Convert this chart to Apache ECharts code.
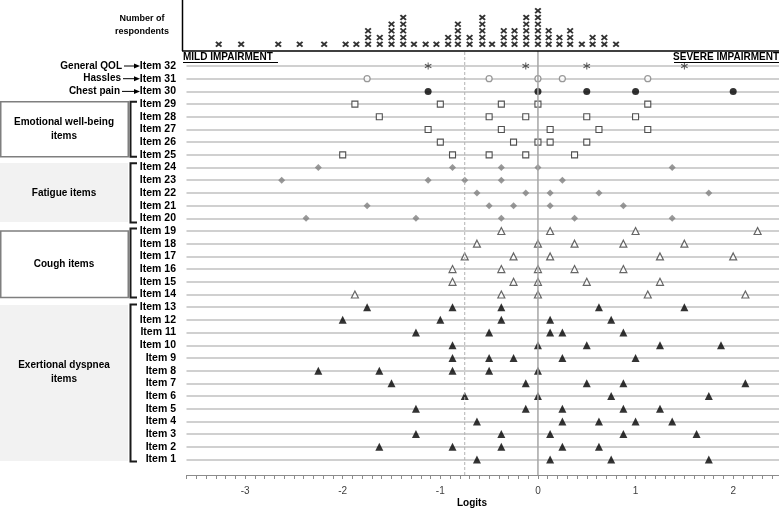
<!DOCTYPE html>
<html>
<head>
<meta charset="utf-8">
<script src="https://cdn.jsdelivr.net/npm/echarts@6/dist/echarts.min.js"></script>
<style>
  html, body { margin: 0; padding: 0; background: #fff; }
  #chart { width: 779px; height: 509px; }
</style>
</head>
<body>
<div id="chart"></div>
<script>
// rows of the item map, bottom to top
const itemLabels = Array.from({ length: 32 }, (_, i) => 'Item ' + (i + 1));

// person measures (logits) and how many respondents sit at each
const personLogits = [-3.27, -3.04, -2.66, -2.44, -2.19, -1.97, -1.86, -1.74, -1.62, -1.50,
  -1.38, -1.27, -1.15, -1.04, -0.92, -0.82, -0.70, -0.57, -0.47, -0.35,
  -0.24, -0.12, 0.00, 0.11, 0.22, 0.33, 0.45, 0.56, 0.68, 0.80];
const respondentCounts = [1, 1, 1, 1, 1, 1, 1, 3, 2, 4,
  5, 1, 1, 1, 2, 4, 2, 5, 1, 3,
  3, 5, 6, 3, 2, 3, 1, 2, 2, 1];

// item thresholds (logits)
const dyspneaItems = [1, 2, 3, 4, 5, 6, 7, 8, 9, 10, 11, 12, 13];
const dyspneaLogits = [
  [-0.625, 0.125, 0.75, 1.75],
  [-1.625, -0.875, -0.375, 0.25, 0.625],
  [-1.25, -0.375, 0.125, 0.875, 1.625],
  [-0.625, 0.25, 0.625, 1, 1.375],
  [-1.25, -0.125, 0.25, 0.875, 1.25],
  [-0.75, 0, 0.75, 1.75],
  [-1.5, -0.125, 0.5, 0.875, 2.125],
  [-2.25, -1.625, -0.875, -0.5, 0],
  [-0.875, -0.5, -0.25, 0.25, 1],
  [-0.875, 0, 0.5, 1.25, 1.875],
  [-1.25, -0.5, 0.125, 0.25, 0.875],
  [-2, -1, -0.375, 0.125, 0.75],
  [-1.75, -0.875, -0.375, 0.625, 1.5]
];
const coughItems = [14, 15, 16, 17, 18, 19];
const coughLogits = [
  [-1.875, -0.375, 0, 1.125, 2.125],
  [-0.875, -0.25, 0, 0.5, 1.25],
  [-0.875, -0.375, 0, 0.375, 0.875],
  [-0.75, -0.25, 0.125, 1.25, 2],
  [-0.625, 0, 0.375, 0.875, 1.5],
  [-0.375, 0.125, 1, 2.25]
];
const fatigueItems = [20, 21, 22, 23, 24];
const fatigueLogits = [
  [-2.375, -1.25, -0.375, 0.375, 1.375],
  [-1.75, -0.5, -0.25, 0.125, 0.875],
  [-0.625, -0.125, 0.125, 0.625, 1.75],
  [-2.625, -1.125, -0.75, -0.375, 0.25],
  [-2.25, -0.875, -0.375, 0, 1.375]
];
const emotionalItems = [25, 26, 27, 28, 29];
const emotionalLogits = [
  [-2, -0.875, -0.5, -0.125, 0.375],
  [-1, -0.25, 0, 0.125, 0.5],
  [-1.125, -0.375, 0.125, 0.625, 1.125],
  [-1.625, -0.5, -0.125, 0.5, 1],
  [-1.875, -1, -0.375, 0, 1.125]
];
const chestPainLogits = [-1.125, 0, 0.5, 1, 2];          // item 30
const hasslesLogits = [-1.75, -0.5, 0, 0.25, 1.125];     // item 31
const generalQolLogits = [-1.125, -0.125, 0.5, 1.5];     // item 32

const cutoffLogit = -0.75;
const xMin = -3.6, xMax = 2.5;

const FONT = '"Liberation Sans", Arial, sans-serif';
const crossPath = 'path://M0,2L2,0L5,3L8,0L10,2L7,5L10,8L8,10L5,7L2,10L0,8L3,5Z';
const asteriskPath = 'path://M4.3,0L5.7,0L5.7,10L4.3,10Z' +
  'M0.97,1.88L9.63,6.88L8.93,8.12L0.27,3.12Z' +
  'M0.27,6.88L8.93,1.88L9.63,3.12L0.97,8.12Z';

function rowPoints(items, rows) {
  const pts = [];
  items.forEach((item, r) => rows[r].forEach(v => pts.push([v, item - 1])));
  return pts;
}

const respondentMarks = [];
personLogits.forEach((v, i) => {
  for (let k = 1; k <= respondentCounts[i]; k++) respondentMarks.push([v, k]);
});

function txt(x, y, text, size, align, weight) {
  return {
    type: 'text', x: x, y: y, z: 10,
    style: {
      text: text, fill: '#000',
      font: (weight || 'bold') + ' ' + size + 'px ' + FONT,
      align: align, verticalAlign: 'middle',
      textAlign: align, textVerticalAlign: 'middle'
    }
  };
}
function hline(x1, x2, y, color, w) {
  return { type: 'line', z: 10, shape: { x1: x1, y1: y, x2: x2, y2: y }, style: { stroke: color, lineWidth: w } };
}
function bracket(y1, y2) {
  return {
    type: 'polyline', z: 10,
    shape: { points: [[137, y1], [130.5, y1], [130.5, y2], [137, y2]] },
    style: { stroke: '#1a1a1a', lineWidth: 2, fill: null }
  };
}
function arrow(x1, y) {
  return [
    hline(x1, 136, y, '#000', 1),
    { type: 'polygon', z: 10, shape: { points: [[134, y - 2.5], [140, y], [134, y + 2.5]] }, style: { fill: '#000' } }
  ];
}

const graphics = [
  // histogram frame
  { type: 'line', z: 10, shape: { x1: 182.5, y1: 0, x2: 182.5, y2: 51 }, style: { stroke: '#000', lineWidth: 1.5 } },
  hline(182, 779, 51, '#000', 1.5),
  txt(142, 19, 'Number of', 9, 'center'),
  txt(142, 31.5, 'respondents', 9, 'center'),
  txt(183, 57, 'MILD IMPAIRMENT', 10, 'left'),
  hline(183, 278, 62.5, '#000', 1.2),
  txt(779, 57, 'SEVERE IMPAIRMENT', 10, 'right'),
  hline(674, 779, 62.5, '#000', 1.2),
  // single items
  txt(122, 66, 'General QOL', 10, 'right'),
  txt(121, 78.7, 'Hassles', 10, 'right'),
  txt(120, 91.4, 'Chest pain', 10, 'right'),
  ...arrow(124, 66), ...arrow(123, 78.7), ...arrow(122, 91.4),
  // group boxes
  { type: 'rect', z: 9, shape: { x: 0.75, y: 101.7, width: 127.5, height: 55 }, style: { fill: '#fff', stroke: '#7f7f7f', lineWidth: 1.5 } },
  { type: 'rect', z: 9, shape: { x: 0, y: 163, width: 128, height: 59 }, style: { fill: '#f2f2f2' } },
  { type: 'rect', z: 9, shape: { x: 0.75, y: 231, width: 127.5, height: 66.5 }, style: { fill: '#fff', stroke: '#7f7f7f', lineWidth: 1.5 } },
  { type: 'rect', z: 9, shape: { x: 0, y: 305, width: 128, height: 156 }, style: { fill: '#f2f2f2' } },
  txt(64, 122.7, 'Emotional well-being', 10, 'center'),
  txt(64, 136, 'items', 10, 'center'),
  txt(64, 193, 'Fatigue items', 10, 'center'),
  txt(64, 264, 'Cough items', 10, 'center'),
  txt(64, 365, 'Exertional dyspnea', 10, 'center'),
  txt(64, 379, 'items', 10, 'center'),
  bracket(101.7, 156.7), bracket(163.3, 222.5), bracket(228.5, 297.5), bracket(304.5, 461.5),
  txt(472, 503, 'Logits', 10, 'center')
];

const chart = echarts.init(document.getElementById('chart'));
chart.setOption({
  animation: false,
  backgroundColor: '#fff',
  grid: [
    { left: 186.5, width: 595.5, top: 0, height: 51, outerBoundsMode: 'none' },
    { left: 186.5, width: 595.5, top: 66, bottom: 49.5, outerBoundsMode: 'none' },
    { left: 186.5, width: 595.5, top: 51, bottom: 34, outerBoundsMode: 'none' }
  ],
  xAxis: [
    { gridIndex: 0, type: 'value', min: xMin, max: xMax, show: false },
    { gridIndex: 1, type: 'value', min: xMin, max: xMax, show: false },
    {
      gridIndex: 2, type: 'value', min: xMin, max: xMax, interval: 0.1,
      axisLine: { lineStyle: { color: '#8c8c8c', width: 1 } },
      axisTick: { length: 4, lineStyle: { color: '#8c8c8c' } },
      splitLine: { show: false },
      axisLabel: {
        margin: 11, fontSize: 10, color: '#404040', fontFamily: FONT,
        formatter: v => Math.abs(v - Math.round(v)) < 1e-6 ? String(Math.round(v)) : ''
      }
    }
  ],
  yAxis: [
    { gridIndex: 0, type: 'value', min: 0, max: 7.6, show: false },
    {
      gridIndex: 1, type: 'category', data: itemLabels, boundaryGap: false,
      axisLine: { show: false }, axisTick: { show: false },
      axisLabel: { interval: 0, margin: 10.5, fontSize: 10.5, fontWeight: 'bold', color: '#000', fontFamily: FONT },
      splitLine: { show: true, interval: 0, lineStyle: { color: '#c0c0c0', width: 1.5 } }
    },
    { gridIndex: 2, type: 'value', min: 0, max: 1, show: false }
  ],
  graphic: graphics,
  series: [
    {
      type: 'scatter', xAxisIndex: 0, yAxisIndex: 0, data: respondentMarks,
      symbol: crossPath, symbolSize: [7, 6], itemStyle: { color: '#000' }, silent: true
    },
    {
      type: 'line', xAxisIndex: 2, yAxisIndex: 2, z: 5, symbol: 'none', silent: true,
      data: [[0, 0], [0, 1]], lineStyle: { color: '#a6a6a6', width: 1.5 }
    },
    {
      type: 'line', xAxisIndex: 2, yAxisIndex: 2, z: 5, symbol: 'none', silent: true,
      data: [[cutoffLogit, 0], [cutoffLogit, 1]], lineStyle: { color: '#b3b3b3', width: 1, type: [3, 2] }
    },
    {
      type: 'scatter', xAxisIndex: 1, yAxisIndex: 1, data: rowPoints([32], [generalQolLogits]),
      symbol: asteriskPath, symbolSize: 7, itemStyle: { color: '#333' }
    },
    {
      type: 'scatter', xAxisIndex: 1, yAxisIndex: 1, data: rowPoints([31], [hasslesLogits]),
      symbol: 'circle', symbolSize: 6, itemStyle: { color: '#fff', borderColor: '#7f7f7f', borderWidth: 1.2 }
    },
    {
      type: 'scatter', xAxisIndex: 1, yAxisIndex: 1, data: rowPoints([30], [chestPainLogits]),
      symbol: 'circle', symbolSize: 7, itemStyle: { color: '#000' }
    },
    {
      type: 'scatter', xAxisIndex: 1, yAxisIndex: 1, data: rowPoints(emotionalItems, emotionalLogits),
      symbol: 'rect', symbolSize: 6, itemStyle: { color: '#fff', borderColor: '#262626', borderWidth: 1.1 }
    },
    {
      type: 'scatter', xAxisIndex: 1, yAxisIndex: 1, data: rowPoints(fatigueItems, fatigueLogits),
      symbol: 'diamond', symbolSize: 7, itemStyle: { color: '#7f7f7f' }
    },
    {
      type: 'scatter', xAxisIndex: 1, yAxisIndex: 1, data: rowPoints(coughItems, coughLogits),
      symbol: 'triangle', symbolSize: 7, itemStyle: { color: '#fff', borderColor: '#404040', borderWidth: 1.2 }
    },
    {
      type: 'scatter', xAxisIndex: 1, yAxisIndex: 1, data: rowPoints(dyspneaItems, dyspneaLogits),
      symbol: 'triangle', symbolSize: 8, itemStyle: { color: '#000' }
    }
  ]
});
</script>
</body>
</html>
